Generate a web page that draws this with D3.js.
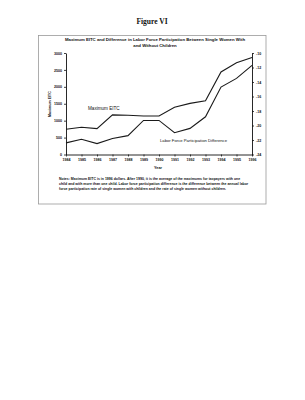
<!DOCTYPE html>
<html>
<head>
<meta charset="utf-8">
<script src="https://cdn.jsdelivr.net/npm/d3@7"></script>
<style>
  body { margin: 0; background: #fff; }
  text { font-family: "Liberation Sans", Arial, sans-serif; fill: #111; }
</style>
</head>
<body>
<div id="chart"></div>
<script>
// Data
var years = [1984, 1985, 1986, 1987, 1988, 1989, 1990, 1991, 1992, 1993, 1994, 1995, 1996];
var maxEitc = [745, 805, 765, 1170, 1160, 1140, 1140, 1395, 1510, 1590, 2440, 2710, 2870];
var lfpDiff = [-22.4, -21.9, -22.5, -21.8, -21.4, -19.3, -19.3, -21.0, -20.4, -18.8, -14.7, -13.5, -11.7];
var leftTicks = [0, 500, 1000, 1500, 2000, 2500, 3000];
var rightTicks = [-24, -22, -20, -18, -16, -14, -12, -10];
var noteLines = [
  "Notes: Maximum EITC is in 1996 dollars.  After 1990, it is the average of the maximums for taxpayers with one",
  "child and with more than one child.  Labor force participation difference is the difference between the annual labor",
  "force participation rate of single women with children and the rate of single women without children."
];

var svgWidth = 305;
var svgHeight = 400;

// plot area
var plot = { left: 66, right: 252, top: 53, bottom: 154.5 };

var svg = d3.select("#chart")
  .append("svg")
  .attr("width", svgWidth)
  .attr("height", svgHeight);

svg.append("rect")
  .attr("width", svgWidth)
  .attr("height", svgHeight)
  .attr("fill", "#fff");

// Page heading
svg.append("text")
  .attr("x", 152)
  .attr("y", 24)
  .attr("text-anchor", "middle")
  .attr("fill", "#111")
  .style("font-family", "'Liberation Serif', serif")
  .style("font-weight", "bold")
  .style("font-size", "7.5px")
  .text("Figure VI");

// Frame around the chart
svg.append("rect")
  .attr("x", 38.5)
  .attr("y", 35.5)
  .attr("width", 227.5)
  .attr("height", 168.5)
  .attr("fill", "none")
  .attr("stroke", "#999")
  .attr("stroke-width", 0.8);

// Chart title
var title = svg.append("text")
  .attr("text-anchor", "middle")
  .style("font-weight", "bold")
  .style("font-size", "4.3px");
title.append("tspan").attr("x", 155).attr("y", 41).text("Maximum EITC and Difference in Labor Force Participation Between Single Women With");
title.append("tspan").attr("x", 155).attr("y", 46.5).text("and Without Children");

// Scales
var x = d3.scalePoint()
  .domain(years)
  .range([plot.left, plot.right]);

var yLeft = d3.scaleLinear()
  .domain([0, 3000])
  .range([plot.bottom, plot.top]);

var yRight = d3.scaleLinear()
  .domain([-24, -10])
  .range([plot.bottom, plot.top]);

// Axes
var xAxis = d3.axisBottom(x).tickSize(2).tickPadding(2);
var leftAxis = d3.axisLeft(yLeft).tickValues(leftTicks).tickFormat(d => String(d)).tickSize(2).tickPadding(2);
var rightAxis = d3.axisRight(yRight).tickValues(rightTicks).tickFormat(d => String(d)).tickSize(2).tickPadding(2);

function styleAxis(g) {
  g.select(".domain").attr("stroke", "#111").attr("stroke-width", 0.9);
  g.selectAll(".tick line").attr("stroke", "#111").attr("stroke-width", 0.8);
  g.selectAll(".tick text")
    .style("font-family", "'Liberation Sans', Arial, sans-serif")
    .style("font-weight", "bold")
    .style("font-size", "3.6px")
    .attr("fill", "#111");
}

svg.append("g")
  .attr("transform", `translate(0, ${plot.bottom})`)
  .call(xAxis.tickSizeOuter(0))
  .call(styleAxis);

svg.append("g")
  .attr("transform", `translate(${plot.left}, 0)`)
  .call(leftAxis.tickSizeOuter(0))
  .call(styleAxis);

svg.append("g")
  .attr("transform", `translate(${plot.right}, 0)`)
  .call(rightAxis.tickSizeOuter(0))
  .call(styleAxis);

// Lines
var eitcLine = d3.line()
  .x((d, i) => x(years[i]))
  .y(d => yLeft(d));

var lfpLine = d3.line()
  .x((d, i) => x(years[i]))
  .y(d => yRight(d));

svg.append("path")
  .datum(maxEitc)
  .attr("d", eitcLine)
  .attr("fill", "none")
  .attr("stroke", "#1a1a1a")
  .attr("stroke-width", 1.1);

svg.append("path")
  .datum(lfpDiff)
  .attr("d", lfpLine)
  .attr("fill", "none")
  .attr("stroke", "#1a1a1a")
  .attr("stroke-width", 1.1);

// Line labels
svg.append("text")
  .attr("x", 88)
  .attr("y", 110)
  .style("font-size", "4.6px")
  .text("Maximum EITC");

svg.append("text")
  .attr("x", 160)
  .attr("y", 141.5)
  .style("font-size", "4.2px")
  .text("Labor Force Participation Difference");

// Axis titles
svg.append("text")
  .attr("transform", `translate(51, 104) rotate(-90)`)
  .attr("text-anchor", "middle")
  .style("font-weight", "bold")
  .style("font-size", "3.6px")
  .text("Maximum EITC");

svg.append("text")
  .attr("x", 158)
  .attr("y", 169)
  .attr("text-anchor", "middle")
  .style("font-weight", "bold")
  .style("font-size", "3.8px")
  .text("Year");

// Notes
svg.append("g")
  .selectAll("text")
  .data(noteLines)
  .enter()
  .append("text")
  .attr("x", 59)
  .attr("y", (d, i) => 180 + i * 5)
  .style("font-weight", "bold")
  .style("font-size", "3.5px")
  .text(d => d);
</script>
</body>
</html>
